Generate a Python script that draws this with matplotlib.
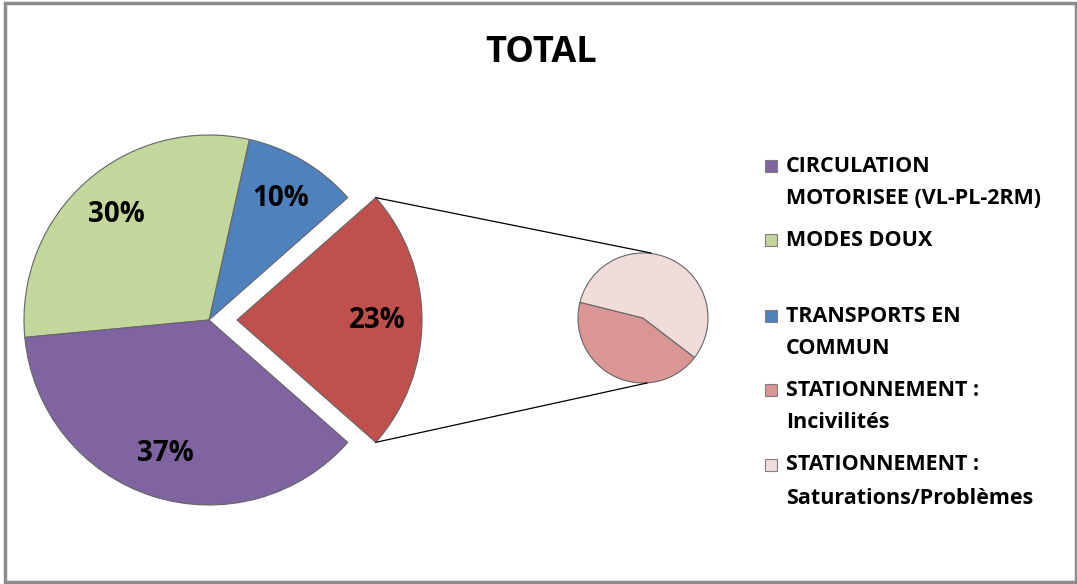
import matplotlib
matplotlib.use('Agg')
import matplotlib.pyplot as plt
from matplotlib.patches import Rectangle
import numpy as np

plt.rc('font', family='Open Sans')

# main pie (order: exploded slice first, then counter-clockwise)
main_labels = ['STATIONNEMENT', 'TRANSPORTS EN\nCOMMUN', 'MODES DOUX', 'CIRCULATION\nMOTORISEE (VL-PL-2RM)']
main_values = [23, 10, 30, 37]
main_colors = ['#C0504D', '#4F81BD', '#C3D69B', '#8064A2']

# secondary pie : breakdown of STATIONNEMENT
sub_labels = ['STATIONNEMENT :\nIncivilités', 'STATIONNEMENT :\nSaturations/Problèmes']
sub_values = [10, 13]
sub_colors = ['#D99694', '#F2DCDB']

legend_labels = ['CIRCULATION\nMOTORISEE (VL-PL-2RM)', 'MODES DOUX', 'TRANSPORTS EN\nCOMMUN',
                 'STATIONNEMENT :\nIncivilités', 'STATIONNEMENT :\nSaturations/Problèmes']
legend_colors = ['#8064A2', '#C3D69B', '#4F81BD', '#D99694', '#F2DCDB']

W, H = 1077, 584
fig = plt.figure(figsize=(W / 100, H / 100), dpi=100)
ax = fig.add_axes([0, 0, 1, 1])

# outer frame
ax.add_patch(Rectangle((5, 2), W - 6, H - 5, fill=False, edgecolor='#8c8c8c', lw=2.5))

ax.text(541, H - 53, 'TOTAL', ha='center', va='center', fontsize=26, fontweight='bold')

r_main = 185
c_main = (209, H - 320)
explode_px = 28
half = main_values[0] / sum(main_values) * 360 / 2
wedges, texts, autotexts = ax.pie(
    main_values, colors=main_colors, startangle=-half, center=c_main, radius=r_main,
    explode=[explode_px, 0, 0, 0], autopct='%1.0f%%', pctdistance=0.76,
    wedgeprops=dict(edgecolor='#666666', linewidth=0.8),
    textprops=dict(fontsize=20, fontweight='bold', color='black'), frame=True)

r_sub = 65
c_sub = (643, H - 318)
start_sub = 166
ax.pie(sub_values, colors=sub_colors, startangle=start_sub, center=c_sub, radius=r_sub,
       wedgeprops=dict(edgecolor='#666666', linewidth=0.8), frame=True)

# connector lines from exploded slice to secondary pie
tip = (c_main[0] + explode_px, c_main[1])
a = np.radians(half)
top_pt = (tip[0] + r_main * np.cos(a), tip[1] + r_main * np.sin(a))
bot_pt = (tip[0] + r_main * np.cos(a), tip[1] - r_main * np.sin(a))
ax.plot([top_pt[0], c_sub[0] + 8], [top_pt[1], c_sub[1] + r_sub], color='black', lw=0.9)
ax.plot([bot_pt[0], c_sub[0] + 4], [bot_pt[1], c_sub[1] - r_sub], color='black', lw=0.9)

ax.set_xlim(0, W)
ax.set_ylim(0, H)
ax.set_aspect('equal')
ax.axis('off')

# legend
rows_y = [166, 240, 316, 390, 465]
for lab, col, y in zip(legend_labels, legend_colors, rows_y):
    ax.add_patch(Rectangle((765, H - y - 6), 12, 12, facecolor=col, edgecolor='#7f7f7f', lw=0.8))
    lines = lab.split('\n')
    for i, line in enumerate(lines):
        ax.text(786, H - y - i * 33, line, ha='left', va='center', fontsize=15.5, fontweight='bold')

fig.savefig('out.png', dpi=100)
